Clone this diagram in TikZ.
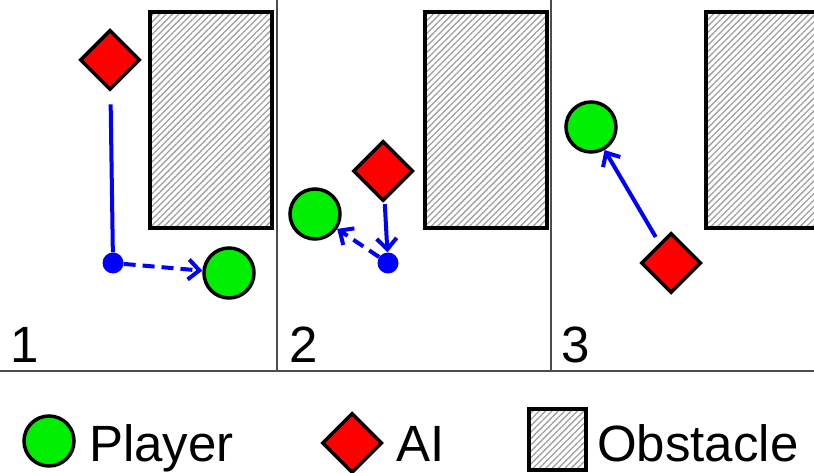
\documentclass[tikz,border=0pt]{standalone}
\usepackage{fontspec}
\setmainfont{Liberation Sans}
\usetikzlibrary{shapes.geometric,arrows.meta,patterns.meta}
\definecolor{playergreen}{RGB}{0,238,0}

\begin{document}
\begin{tikzpicture}[x=1pt,y=-1pt,
  font=\fontsize{51}{51}\selectfont,
  player/.style={draw,circle,fill=playergreen,line width=3.5pt,minimum size=50pt,inner sep=0pt},
  ai/.style={draw,diamond,fill=red,line width=3.5pt,minimum size=60pt,inner sep=0pt},
  waypoint/.style={circle,fill=blue,minimum size=21pt,inner sep=0pt},
  obstacle/.style={draw,line width=3.5pt,pattern={Lines[angle=45,distance=4.5pt,line width=1.3pt]},pattern color=gray!75},
  divider/.style={draw=black!70,line width=1.8pt},
  route/.style={blue,line width=4pt},
  go/.style={route,-{Straight Barb[length=11pt,width=20pt]}},
  plan/.style={go,dash pattern=on 12pt off 7pt},
  every node/.style={inner sep=0pt}]

  \useasboundingbox (0,0) rectangle (814,473);
  \clip (0,0) rectangle (814,473);

%panels and obstacles
  \draw[divider] (277,0) -- (277,371);
  \draw[divider] (551,0) -- (551,371);
  \draw[divider] (0,371) -- (814,371);
  \foreach \x in {150,425,706}
    \draw[obstacle] (\x,12) rectangle ++(122,216);
  \foreach \x/\n in {10/1, 289/2, 561/3}
    \node[anchor=base west] (lab\n) at (\x,362) {\n};

%panel 1: walk to the corner, then look for the player
  \node[ai] (ai1) at (110,60) {};
  \node[waypoint] (wp1) at (113,263) {};
  \node[player] (player1) at (229,273) {};
  \draw[route,shorten <=13pt] (ai1) -- (wp1);
  \draw[plan] (wp1) -- (player1);

%panel 2
  \node[ai] (ai2) at (383,171) {};
  \node[waypoint] (wp2) at (388,263) {};
  \node[player] (player2) at (315,214) {};
  \draw[go,shorten <=3pt] (ai2) -- (wp2);
  \draw[plan] (wp2) -- (player2);

%panel 3
  \node[ai] (ai3) at (671,263) {};
  \node[player] (player3) at (591,127) {};
  \draw[go,shorten <=7pt] (ai3) -- (player3);

%legend
  \node[player] (keyplayer) at (49,441) {};
  \node[anchor=base west] (keyplayertext) at (89,461) {Player};
  \node[ai] (keyai) at (352,443) {};
  \node[anchor=base west] (keyaitext) at (396,461) {AI};
  \draw[obstacle] (529,409) rectangle (586,470);
  \node[anchor=base west] (keyobstacletext) at (597,461) {Obstacle};

\end{tikzpicture}
\end{document}
